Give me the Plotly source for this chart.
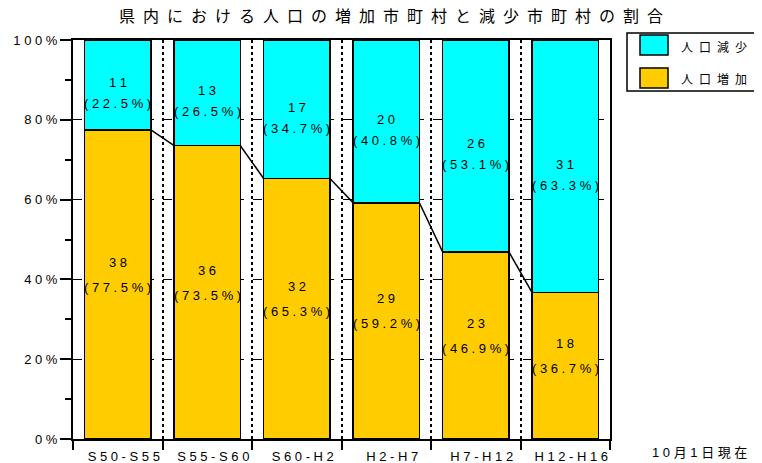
import plotly.graph_objects as go

# ---- data ----
categories = ["S50-S55", "S55-S60", "S60-H2", "H2-H7", "H7-H12", "H12-H16"]
increase_count = [38, 36, 32, 29, 23, 18]
decrease_count = [11, 13, 17, 20, 26, 31]
increase_pct = [77.5, 73.5, 65.3, 59.2, 46.9, 36.7]
decrease_pct = [22.5, 26.5, 34.7, 40.8, 53.1, 63.3]
y_tick_vals = [0, 20, 40, 60, 80, 100]
y_tick_labels = ["0%", "20%", "40%", "60%", "80%", "100%"]
series_names = ["人口増加", "人口減少"]
title_text = "県内における人口の増加市町村と減少市町村の割合"
note_text = "10月1日現在"

# ---- style ----
GOLD = "#FFCC00"
CYAN = "#00FFFF"
FONT = "Arial, 'Liberation Sans', 'Noto Sans CJK JP', sans-serif"
BAR_W = 0.74
OFF = 8  # page body margin
W, H = 762 - OFF, 463 - OFF
# plot area on the page: x 73..610, y 40..439
ML, MT = 73 - OFF, 40 - OFF
MR = W - (610 - OFF)
MB = H - (439 - OFF)
PW = W - ML - MR
PH = H - MT - MB


def spaced(s, sep=" "):
    return sep.join(list(s))


def px_x(x):
    # page pixel -> paper coordinate
    return (x - OFF - ML) / PW


def px_y(y):
    return (H - MB - (y - OFF)) / PH


fig = go.Figure()
fig.add_trace(go.Bar(
    x=list(range(len(categories))), y=increase_pct, name=series_names[0],
    width=BAR_W, marker=dict(color=GOLD, line=dict(color="black", width=1.5)),
    hoverinfo="skip", showlegend=False))
fig.add_trace(go.Bar(
    x=list(range(len(categories))), y=decrease_pct, name=series_names[1],
    width=BAR_W, marker=dict(color=CYAN, line=dict(color="black", width=1.5)),
    hoverinfo="skip", showlegend=False))

shapes = []
annotations = []

# connector lines between tops of increase segments
for i in range(len(categories) - 1):
    shapes.append(dict(type="line", xref="x", yref="y",
                       x0=i + BAR_W / 2, y0=increase_pct[i],
                       x1=i + 1 - BAR_W / 2, y1=increase_pct[i + 1],
                       line=dict(color="black", width=1.5), layer="above"))

# segment labels
lab_font = dict(family=FONT, size=13, color="black")
for i in range(len(categories)):
    mid_inc = increase_pct[i] / 2
    mid_dec = increase_pct[i] + decrease_pct[i] / 2
    annotations += [
        dict(x=i, y=mid_inc, xref="x", yref="y", text=spaced(str(increase_count[i])),
             showarrow=False, yshift=22, font=lab_font),
        dict(x=i, y=mid_inc, xref="x", yref="y", text=spaced("(%.1f%%)" % increase_pct[i]),
             showarrow=False, yshift=-3, font=lab_font),
        dict(x=i, y=mid_dec, xref="x", yref="y", text=spaced(str(decrease_count[i])),
             showarrow=False, yshift=2, font=lab_font),
        dict(x=i, y=mid_dec, xref="x", yref="y", text=spaced("(%.1f%%)" % decrease_pct[i]),
             showarrow=False, yshift=-19, font=lab_font),
    ]

# title
annotations.append(dict(x=px_x(391), y=px_y(17), xref="paper", yref="paper",
                        text=spaced(title_text, "\u2002"), showarrow=False,
                        xanchor="center", yanchor="middle",
                        font=dict(family=FONT, size=16, color="black")))
# note
annotations.append(dict(x=px_x(699), y=px_y(452), xref="paper", yref="paper",
                        text=spaced(note_text, " "), showarrow=False,
                        xanchor="center", yanchor="middle",
                        font=dict(family=FONT, size=13, color="black")))

# custom legend
shapes.append(dict(type="rect", xref="paper", yref="paper",
                   x0=px_x(627), x1=px_x(775), y0=px_y(91), y1=px_y(33),
                   line=dict(color="black", width=1.5), fillcolor="white", layer="above"))
legend_items = [(series_names[1], CYAN, 35, 55), (series_names[0], GOLD, 68, 88)]
for name, col, ytop, ybot in legend_items:
    shapes.append(dict(type="rect", xref="paper", yref="paper",
                       x0=px_x(640), x1=px_x(668), y0=px_y(ybot), y1=px_y(ytop),
                       line=dict(color="black", width=1.5), fillcolor=col, layer="above"))
    annotations.append(dict(x=px_x(679), y=px_y((ytop + ybot) / 2 + 2), xref="paper", yref="paper",
                            text=spaced(name, "\u2002"), showarrow=False,
                            xanchor="left", yanchor="middle",
                            font=dict(family=FONT, size=12, color="black")))

boundaries = [i - 0.5 for i in range(len(categories) + 1)]

fig.update_layout(
    width=W, height=H,
    margin=dict(l=ML, r=MR, t=MT, b=MB, autoexpand=False),
    barmode="stack", bargap=0.26,
    plot_bgcolor="white", paper_bgcolor="white",
    showlegend=False,
    shapes=shapes, annotations=annotations,
    font=dict(family=FONT, size=13, color="black"),
    xaxis=dict(
        range=[-0.5, len(categories) - 0.5],
        tickmode="array", tickvals=list(range(len(categories))),
        ticktext=[spaced(c) for c in categories],
        ticks="outside", ticklen=4, tickcolor="rgba(0,0,0,0)",
        ticklabelshift=6,
        tickfont=dict(family=FONT, size=13, color="black"),
        showgrid=False, zeroline=False,
        showline=True, linecolor="black", linewidth=2, mirror=True,
        minor=dict(tickmode="array", tickvals=boundaries, ticks="outside",
                   ticklen=9, tickwidth=2, tickcolor="black",
                   showgrid=True, gridcolor="black", griddash="dot", gridwidth=2),
    ),
    yaxis=dict(
        range=[0, 100],
        tickmode="array", tickvals=y_tick_vals,
        ticktext=[spaced(t) for t in y_tick_labels],
        ticks="outside", ticklen=11, tickwidth=2, tickcolor="black",
        tickfont=dict(family=FONT, size=13, color="black"),
        showgrid=True, gridcolor="black", griddash="dash", gridwidth=1,
        zeroline=False,
        showline=True, linecolor="black", linewidth=2, mirror=True,
        minor=dict(dtick=10, ticks="outside", ticklen=6, tickwidth=2,
                   tickcolor="black", showgrid=False),
    ),
)

fig.write_html("out.html")
